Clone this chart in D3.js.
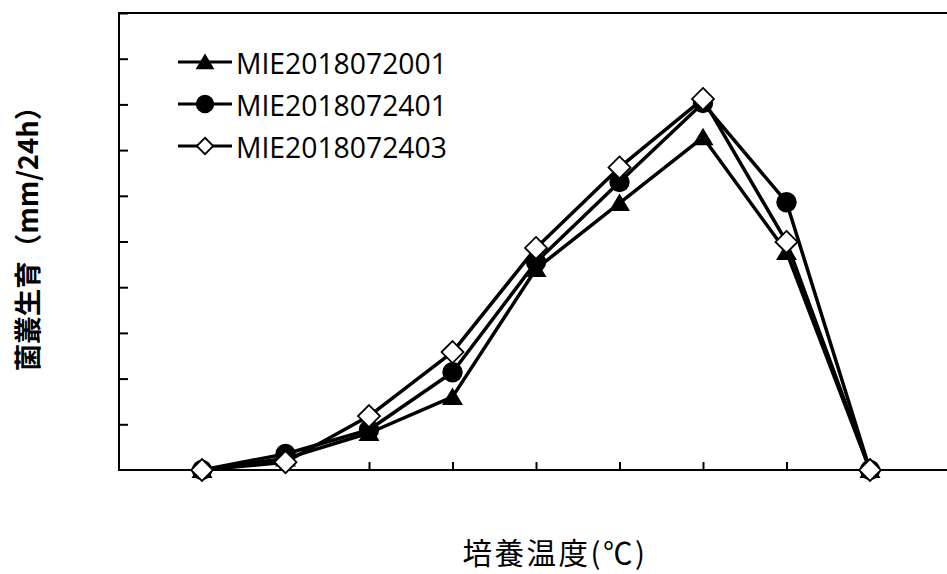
<!DOCTYPE html>
<html>
<head>
<meta charset="utf-8">
<script src="https://cdn.jsdelivr.net/npm/d3@7"></script>
<style>
  html, body { margin: 0; padding: 0; background: #fff; }
  svg { display: block; }
</style>
</head>
<body>
<svg id="chart" width="947" height="574"></svg>
<script>
// culture temperature (°C) and growth per strain (mm/24h)
const temps = [5, 10, 15, 20, 25, 30, 35, 40, 45];
const strains = ["MIE2018072001", "MIE2018072401", "MIE2018072403"];
const growth2001 = [0, 0.25, 0.81, 1.6, 4.4, 5.84, 7.28, 4.77, 0];
const growth2401 = [0, 0.35, 0.88, 2.14, 4.55, 6.3, 8.03, 5.86, 0];
const growth2403 = [0, 0.17, 1.18, 2.58, 4.86, 6.62, 8.12, 4.99, 0];
const xTicks = [5, 10, 15, 20, 25, 30, 35, 40, 45, 50];
const yTicks = [1, 2, 3, 4, 5, 6, 7, 8, 9, 10];

const svg = d3.select('#chart');
const plotL = 119, plotT = 13, plotB = 470, plotR = 953.5;

const x = d3.scaleLinear().domain([0, 50]).range([118.5, plotR]);
const y = d3.scaleLinear().domain([0, 10]).range([plotB, plotT]);

// frame (right side falls outside the picture)
svg.append('rect')
  .attr('x', plotL).attr('y', plotT)
  .attr('width', plotR - plotL).attr('height', plotB - plotT)
  .attr('fill', 'none').attr('stroke', '#000').attr('stroke-width', 2);

// inward ticks
svg.append('g')
  .attr('transform', `translate(${plotL},0)`)
  .call(d3.axisRight(y).tickValues(yTicks).tickSize(9).tickFormat(''))
  .call(g => g.select('.domain').remove())
  .call(g => g.selectAll('line').attr('stroke-width', 2));
svg.append('g')
  .attr('transform', `translate(0,${plotB})`)
  .call(d3.axisTop(x).tickValues(xTicks).tickSize(8).tickFormat(''))
  .call(g => g.select('.domain').remove())
  .call(g => g.selectAll('line').attr('stroke-width', 2));

const series = [
  { name: strains[0], values: growth2001, shape: 'tri' },
  { name: strains[1], values: growth2401, shape: 'circ' },
  { name: strains[2], values: growth2403, shape: 'dia' }
];

function marker(g, shape, s) {
  if (shape === 'tri') {
    g.append('path')
      .attr('d', `M0,${-s * 0.95}L${s * 1.05},${s * 0.8}L${-s * 1.05},${s * 0.8}Z`)
      .attr('fill', '#000');
  } else if (shape === 'circ') {
    g.append('circle').attr('r', s * 1.02).attr('fill', '#000');
  } else {
    g.append('path')
      .attr('d', `M0,${-s * 1.1}L${s * 1.1},0L0,${s * 1.1}L${-s * 1.1},0Z`)
      .attr('fill', '#fff').attr('stroke', '#000').attr('stroke-width', 1.8);
  }
}

const line = d3.line().x((d, i) => x(temps[i])).y(d => y(d));

series.forEach(s => {
  svg.append('path')
    .datum(s.values)
    .attr('d', line)
    .attr('fill', 'none')
    .attr('stroke', '#000')
    .attr('stroke-width', 3.5)
    .attr('stroke-linejoin', 'round');
  s.values.forEach((v, i) => {
    const g = svg.append('g').attr('transform', `translate(${x(temps[i])},${y(v)})`);
    marker(g, s.shape, 10);
  });
});

// legend
const legendY = [62, 104, 146];
series.forEach((s, i) => {
  const g = svg.append('g').attr('transform', `translate(0,${legendY[i]})`);
  g.append('line')
    .attr('x1', 178).attr('x2', 232)
    .attr('stroke', '#000').attr('stroke-width', 3);
  const m = g.append('g').attr('transform', 'translate(205,0)');
  marker(m, s.shape, s.shape === 'dia' ? 7.5 : 9);
  g.append('text')
    .attr('x', 236).attr('y', 4)
    .attr('dominant-baseline', 'middle')
    .attr('font-family', 'Open Sans, Liberation Sans, sans-serif')
    .attr('font-size', 28.3)
    .attr('fill', '#000')
    .text(s.name);
});

// axis titles
svg.append('text')
  .attr('transform', 'translate(38,232) rotate(-90)')
  .attr('text-anchor', 'middle')
  .attr('font-family', 'Noto Sans CJK JP, sans-serif')
  .attr('font-weight', 'bold')
  .attr('font-size', 27.5)
  .text('菌叢生育（mm/24h）');

svg.append('text')
  .attr('x', 555).attr('y', 564)
  .attr('text-anchor', 'middle')
  .attr('font-family', 'Noto Sans CJK JP, sans-serif')
  .attr('font-size', 29.5)
  .attr('letter-spacing', 2.5)
  .text('培養温度(℃)');
</script>
</body>
</html>
